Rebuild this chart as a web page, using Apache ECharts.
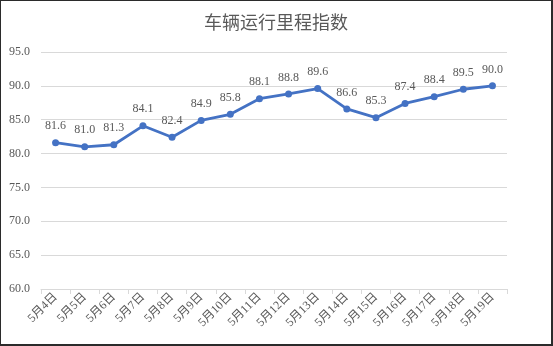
<!DOCTYPE html>
<html>
<head>
<meta charset="utf-8">
<script src="https://cdn.jsdelivr.net/npm/echarts@6/dist/echarts.min.js"></script>
<style>
html,body{margin:0;padding:0;background:#fff;}
#chart{width:553px;height:346px;box-sizing:border-box;border-style:solid;border-color:#2b2b2b;border-width:1px 2px 2px 1px;}
</style>
</head>
<body>
<div id="chart"></div>
<script>
// Daily vehicle mileage index, May 4 – May 19
const titleText = '车辆运行里程指数';
const categories = ['5月4日','5月5日','5月6日','5月7日','5月8日','5月9日','5月10日','5月11日','5月12日','5月13日','5月14日','5月15日','5月16日','5月17日','5月18日','5月19日'];
const indexValues = [81.6, 81.0, 81.3, 84.1, 82.4, 84.9, 85.8, 88.1, 88.8, 89.6, 86.6, 85.3, 87.4, 88.4, 89.5, 90.0];

const chart = echarts.init(document.getElementById('chart'), null, {renderer: 'canvas'});
const serif = '"Liberation Serif", "Noto Sans CJK SC", serif';
chart.setOption({
  animation: false,
  title: {
    text: titleText,
    left: 'center',
    top: 7,
    textStyle: {fontFamily: '"Noto Sans CJK SC", sans-serif', fontSize: 18, fontWeight: 'normal', color: '#595959'}
  },
  grid: {left: 40, right: 44, top: 51, bottom: 55},
  xAxis: {
    type: 'category',
    data: categories,
    boundaryGap: true,
    axisLine: {lineStyle: {color: '#d9d9d9'}},
    axisTick: {show: true, length: 5, lineStyle: {color: '#d9d9d9'}},
    axisLabel: {rotate: 45, fontFamily: serif, fontSize: 12, color: '#595959', margin: 6, interval: 0}
  },
  yAxis: {
    type: 'value',
    min: 60, max: 95, interval: 5,
    axisLine: {show: false},
    axisTick: {show: false},
    splitLine: {lineStyle: {color: '#d9d9d9'}},
    axisLabel: {formatter: v => v.toFixed(1), fontFamily: serif, fontSize: 12, color: '#595959', margin: 11}
  },
  series: [{
    type: 'line',
    data: indexValues,
    symbol: 'circle',
    symbolSize: 7,
    lineStyle: {color: '#4472C4', width: 2.8},
    itemStyle: {color: '#4472C4'},
    label: {
      show: true,
      position: 'top',
      distance: 7,
      formatter: p => p.value.toFixed(1),
      fontFamily: serif,
      fontSize: 12,
      color: '#595959'
    }
  }]
});
</script>
</body>
</html>
